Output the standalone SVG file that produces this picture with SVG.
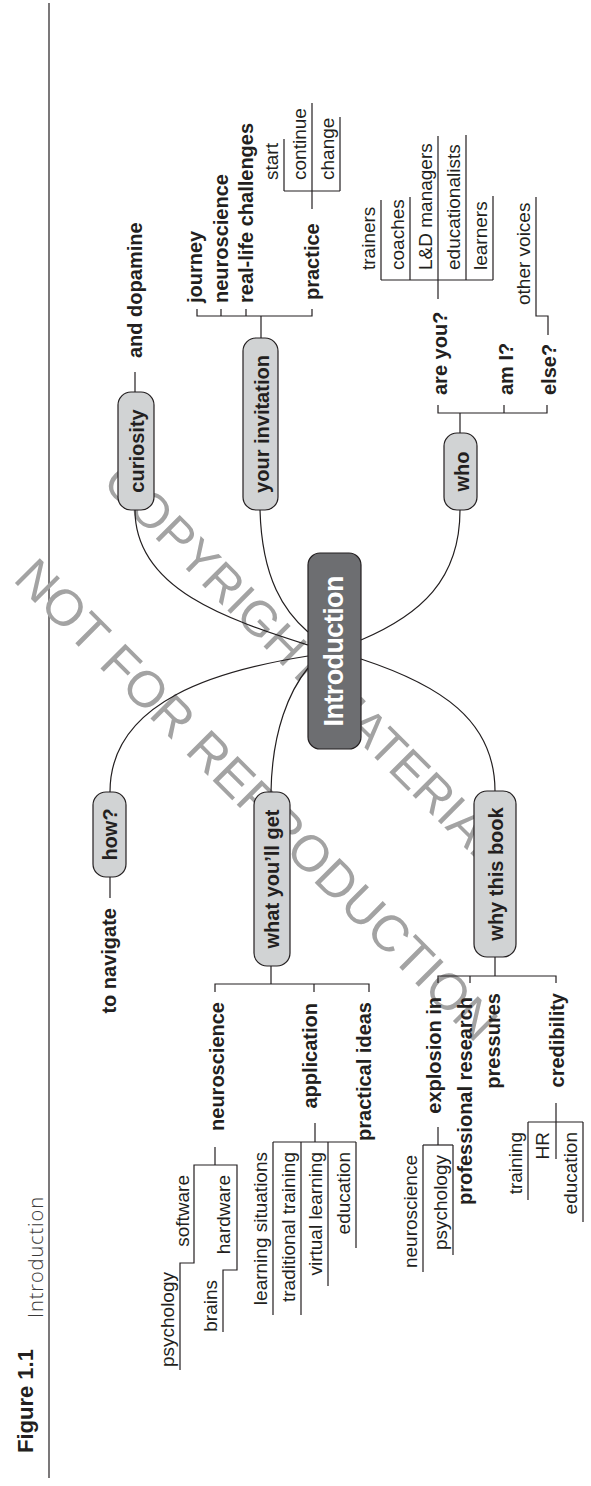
<svg xmlns="http://www.w3.org/2000/svg" width="591" height="1486" viewBox="0 0 591 1486">
<style>
.b{font-family:"Liberation Sans",Arial,sans-serif;font-weight:bold;font-size:20px;fill:#231f20}
.r{font-family:"Liberation Sans",Arial,sans-serif;font-size:19px;fill:#231f20}
.e{text-anchor:end}
.m{text-anchor:middle}
.node{fill:#d1d3d4;stroke:#231f20;stroke-width:1.2}
.ln{fill:none;stroke:#231f20;stroke-width:1.2}
.wm{font-family:"Liberation Sans",Arial,sans-serif;fill:#a3a3a3}
</style>
<rect width="591" height="1486" fill="#ffffff"/>
<g id="header">
<line x1="49" y1="3" x2="49" y2="1478" stroke="#231f20" stroke-width="1.2"/>
<text x="-1453" y="33" transform="rotate(-90)" font-family="'Liberation Sans',Arial,sans-serif" font-weight="bold" font-size="22" fill="#231f20">Figure 1.1</text>
<text x="-1318" y="43" transform="rotate(-90)" font-family="'Open Sans','Liberation Sans',Arial,sans-serif" font-weight="300" font-size="20" fill="#3a3a3a" textLength="121">Introduction</text>
</g>
<g id="watermark">
<text class="wm" font-size="49" transform="translate(101,484) rotate(45)">COPYRIGHT MATERIAL</text>
<text class="wm" font-size="51" transform="translate(12,580) rotate(45)">NOT FOR REPRODUCTION</text>
</g>
<g id="connectors" class="ln">
<path d="M135,510 C135,590 230,620 308,645"/>
<path d="M260,510 C262,580 285,612 308,632"/>
<path d="M460,510 C460,580 420,615 361,640"/>
<path d="M110,792 C110,700 220,670 308,656"/>
<path d="M271,792 C272,730 290,690 308,668"/>
<path d="M495,791 C495,720 440,685 361,659"/>
<path d="M135,392 V372"/>
<path d="M261,338 V316"/>
<path d="M197,309 V316 H312 V309"/>
<path d="M221,316 V309 M246,316 V309"/>
<path d="M312,209 V103"/>
<path d="M284,191 H340"/>
<path d="M284,191 V139"/>
<path d="M340,191 V117"/>
<path d="M460,433 V413"/>
<path d="M438,405 V413 H547 V405"/>
<path d="M504,413 V405"/>
<path d="M438,299 V136"/>
<path d="M381,280 H493"/>
<path d="M381,280 V200 M410,280 V197 M466,280 V135 M493,280 V196"/>
<path d="M548,335 V316 H536 V197"/>
<path d="M110,877 V898"/>
<path d="M271,966 V984"/>
<path d="M215,992 V984 H369 V992"/>
<path d="M314,984 V992"/>
<path d="M215,1147 V1165"/>
<path d="M180,1370 V1263 H194 V1165 H237 V1270 H223 V1332"/>
<path d="M315,1123 V1142"/>
<path d="M273,1142 H356"/>
<path d="M273,1142 V1315 M301,1142 V1315 M328,1142 V1286 M356,1142 V1248"/>
<path d="M495,957 V976"/>
<path d="M438,983 V976 H556 V983"/>
<path d="M470,976 V983"/>
<path d="M438,1127 V1145"/>
<path d="M423,1145 H453"/>
<path d="M423,1145 V1272 M453,1145 V1255"/>
<path d="M556,1103 V1159"/>
<path d="M528,1122 H583"/>
<path d="M528,1122 V1200 M583,1122 V1222"/>
</g>
<g id="node-introduction">
<rect x="308" y="553" width="53" height="196" rx="12" fill="#6d6e71" stroke="#231f20" stroke-width="1.2"/>
<text class="m" transform="translate(343,651) rotate(-90)" font-family="'Liberation Sans',Arial,sans-serif" font-weight="bold" font-size="27" fill="#ffffff" textLength="151">Introduction</text>
</g>
<g id="node-curiosity">
<rect class="node" x="118" y="392" width="36" height="118" rx="13"/>
<text class="b m" transform="translate(143.5,451) rotate(-90)">curiosity</text>
</g>
<g id="node-your-invitation">
<rect class="node" x="243" y="338" width="35" height="172" rx="13"/>
<text class="b m" transform="translate(269,424) rotate(-90)">your invitation</text>
</g>
<g id="node-who">
<rect class="node" x="444" y="433" width="33" height="77" rx="13"/>
<text class="b m" transform="translate(469,471.5) rotate(-90)">who</text>
</g>
<g id="node-how">
<rect class="node" x="93" y="792" width="33" height="85" rx="13"/>
<text class="b m" transform="translate(117,834.5) rotate(-90)">how?</text>
</g>
<g id="node-what-youll-get">
<rect class="node" x="254" y="792" width="36" height="174" rx="13"/>
<text class="b m" transform="translate(279,879) rotate(-90)">what you’ll get</text>
</g>
<g id="node-why-this-book">
<rect class="node" x="474" y="791" width="42" height="166" rx="13"/>
<text class="b m" transform="translate(503,874) rotate(-90)">why this book</text>
</g>
<g id="labels-curiosity"><text class="b" transform="translate(142,358) rotate(-90)">and dopamine</text></g>
<g id="labels-invitation">
<text class="b" transform="translate(202,303) rotate(-90)">journey</text>
<text class="b" transform="translate(228,303) rotate(-90)">neuroscience</text>
<text class="b" transform="translate(253,303) rotate(-90)">real-life challenges</text>
<text class="b" transform="translate(319,300) rotate(-90)">practice</text>
</g>
<g id="labels-practice">
<text class="r" transform="translate(278,180) rotate(-90)">start</text>
<text class="r" transform="translate(306,180) rotate(-90)">continue</text>
<text class="r" transform="translate(334,180) rotate(-90)">change</text>
</g>
<g id="labels-who">
<text class="b" transform="translate(447,395) rotate(-90)">are you?</text>
<text class="b" transform="translate(513,395) rotate(-90)">am I?</text>
<text class="b" transform="translate(556,395) rotate(-90)">else?</text>
</g>
<g id="labels-are-you">
<text class="r" transform="translate(375,270) rotate(-90)">trainers</text>
<text class="r" transform="translate(404,270) rotate(-90)">coaches</text>
<text class="r" transform="translate(432,270) rotate(-90)">L&amp;D managers</text>
<text class="r" transform="translate(460,270) rotate(-90)">educationalists</text>
<text class="r" transform="translate(487,270) rotate(-90)">learners</text>
</g>
<g id="labels-else"><text class="r" transform="translate(530,305) rotate(-90)">other voices</text></g>
<g id="labels-how"><text class="b e" transform="translate(116,908) rotate(-90)">to navigate</text></g>
<g id="labels-what">
<text class="b e" transform="translate(224,1002) rotate(-90)">neuroscience</text>
<text class="b e" transform="translate(317,1003) rotate(-90)">application</text>
<text class="b e" transform="translate(371,1002) rotate(-90)">practical ideas</text>
</g>
<g id="labels-neuroscience">
<text class="r e" transform="translate(174,1272) rotate(-90)">psychology</text>
<text class="r e" transform="translate(189,1175) rotate(-90)">software</text>
<text class="r e" transform="translate(230,1175) rotate(-90)">hardware</text>
<text class="r e" transform="translate(217,1280) rotate(-90)">brains</text>
</g>
<g id="labels-application">
<text class="r e" transform="translate(267,1152) rotate(-90)">learning situations</text>
<text class="r e" transform="translate(295,1152) rotate(-90)">traditional training</text>
<text class="r e" transform="translate(322,1152) rotate(-90)">virtual learning</text>
<text class="r e" transform="translate(350,1152) rotate(-90)">education</text>
</g>
<g id="labels-why">
<text class="b e" transform="translate(441,997) rotate(-90)">explosion in</text>
<text class="b e" transform="translate(472,997) rotate(-90)">professional research</text>
<text class="b e" transform="translate(500,993) rotate(-90)">pressures</text>
<text class="b e" transform="translate(564,993) rotate(-90)">credibility</text>
</g>
<g id="labels-explosion">
<text class="r e" transform="translate(417,1155) rotate(-90)">neuroscience</text>
<text class="r e" transform="translate(447,1155) rotate(-90)">psychology</text>
</g>
<g id="labels-credibility">
<text class="r e" transform="translate(522,1132) rotate(-90)">training</text>
<text class="r e" transform="translate(549,1132) rotate(-90)">HR</text>
<text class="r e" transform="translate(577,1132) rotate(-90)">education</text>
</g>
</svg>
